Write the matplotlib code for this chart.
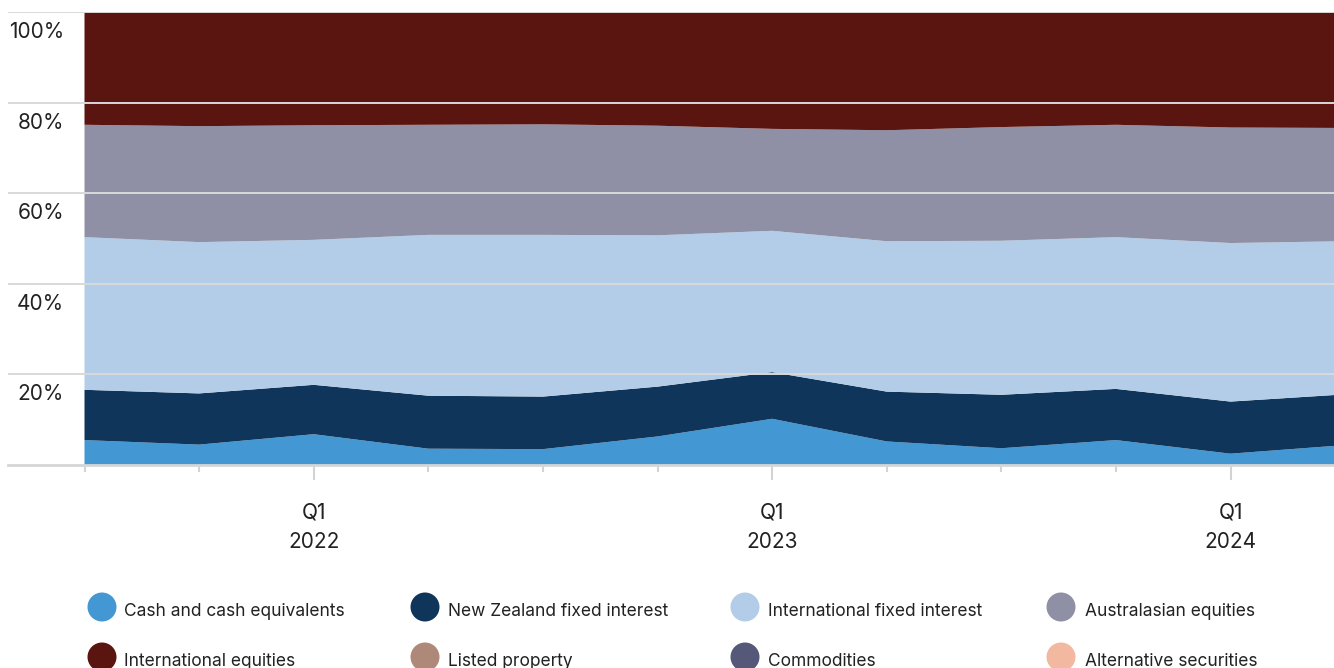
import matplotlib
matplotlib.use("Agg")
import matplotlib.pyplot as plt
import matplotlib.transforms as mtransforms
from matplotlib.patches import Circle
import numpy as np

plt.rcParams['font.family'] = ['Inter', 'DejaVu Sans']

quarters = ["Q3 2021", "Q4 2021", "Q1 2022", "Q2 2022", "Q3 2022", "Q4 2022",
            "Q1 2023", "Q2 2023", "Q3 2023", "Q4 2023", "Q1 2024", "Q2 2024"]

cash = [5.5, 4.5, 6.8, 3.6, 3.5, 6.3, 10.2, 5.2, 3.7, 5.5, 2.5, 4.4]
nz_fixed = [11.1, 11.3, 10.9, 11.7, 11.6, 11.0, 10.3, 11.0, 11.8, 11.3, 11.5, 11.2]
intl_fixed = [33.7, 33.4, 32.0, 35.5, 35.7, 33.4, 31.2, 33.2, 34.0, 33.5, 35.0, 33.8]
aus_equities = [24.8, 25.6, 25.3, 24.3, 24.4, 24.2, 22.5, 24.5, 25.1, 24.8, 25.5, 25.0]
intl_equities = [24.9, 25.2, 25.0, 24.9, 24.8, 25.1, 25.8, 26.1, 25.4, 24.9, 25.5, 25.6]
listed_property = [0] * 12
commodities = [0] * 12
alternatives = [0] * 12

series_names = ["Cash and cash equivalents", "New Zealand fixed interest",
                "International fixed interest", "Australasian equities",
                "International equities", "Listed property", "Commodities",
                "Alternative securities"]
colors = ["#4398d3", "#10355a", "#b3cde8", "#8f90a5",
          "#5a1510", "#ae8878", "#555878", "#f2b9a0"]

y_ticks = [0, 20, 40, 60, 80, 100]

W, H = 1334, 668
fig = plt.figure(figsize=(W / 100, H / 100), dpi=100)

# axes spans pixel x 8..1334, y 12..465
ax = fig.add_axes([8 / W, 1 - 465 / H, (W - 8) / W, (465 - 12) / H])
x = np.arange(len(quarters))
x0_px, step = 84.5, 114.6

ax.stackplot(x, cash, nz_fixed, intl_fixed, aus_equities, intl_equities,
             listed_property, commodities, alternatives,
             colors=colors, linewidth=0, zorder=1)

for v in y_ticks:
    if v == 0:
        ax.axhline(v, color="#d6d6d6", lw=2.0, zorder=3, clip_on=False)
    else:
        ax.axhline(v, color="#d9d9d9", lw=1.4, zorder=3)

for s in ax.spines.values():
    s.set_visible(False)
ax.set_yticks([])

q1_idx = [i for i, q in enumerate(quarters) if q.startswith("Q1")]
other_idx = [i for i in range(len(quarters)) if i not in q1_idx]
ax.set_xticks(q1_idx)
ax.set_xticklabels([])
ax.set_xticks(other_idx, minor=True)
ax.tick_params(axis="x", which="major", length=11, width=1.5, color="#d3d3d3")
ax.tick_params(axis="x", which="minor", length=5, width=1.5, color="#d3d3d3")

ax.set_xlim(-(x0_px - 8) / step, (W - x0_px) / step)
ax.set_ylim(0, 100)

# x labels: two lines under Q1 ticks
tx = mtransforms.blended_transform_factory(ax.transData, fig.transFigure)
for i in q1_idx:
    q, yr = quarters[i].split(" ")
    ax.text(i, 1 - 513 / H, q, transform=tx, ha="center", va="center",
            fontsize=15, color="#222222", clip_on=False)
    ax.text(i, 1 - 542 / H, yr, transform=tx, ha="center", va="center",
            fontsize=15, color="#222222", clip_on=False)

# y labels: right-aligned at x=64px, ~20px below gridline
trans = mtransforms.blended_transform_factory(fig.transFigure, ax.transData)
off = mtransforms.ScaledTranslation(0, -20 / 100, fig.dpi_scale_trans)
for v in y_ticks[1:]:
    ax.text(64 / W, v, f"{v}%", transform=trans + off, ha="right", va="center",
            fontsize=15, color="#222222", clip_on=False)

# legend overlay
lax = fig.add_axes([0, 0, 1, 1], zorder=5)
lax.set_xlim(0, W)
lax.set_ylim(H, 0)
lax.axis("off")
lax.patch.set_alpha(0)
col_x = [102, 425, 745, 1061]
text_x = [124, 448, 768, 1085]
row_y = [607, 657]
for i, (name, c) in enumerate(zip(series_names, colors)):
    r, col = divmod(i, 4)
    lax.add_patch(Circle((col_x[col], row_y[r]), 14.5, color=c, lw=0))
    lax.text(text_x[col], row_y[r] + 5, name, ha="left", va="center",
             fontsize=12.5, color="#222222")

fig.savefig("out.png", dpi=100)
